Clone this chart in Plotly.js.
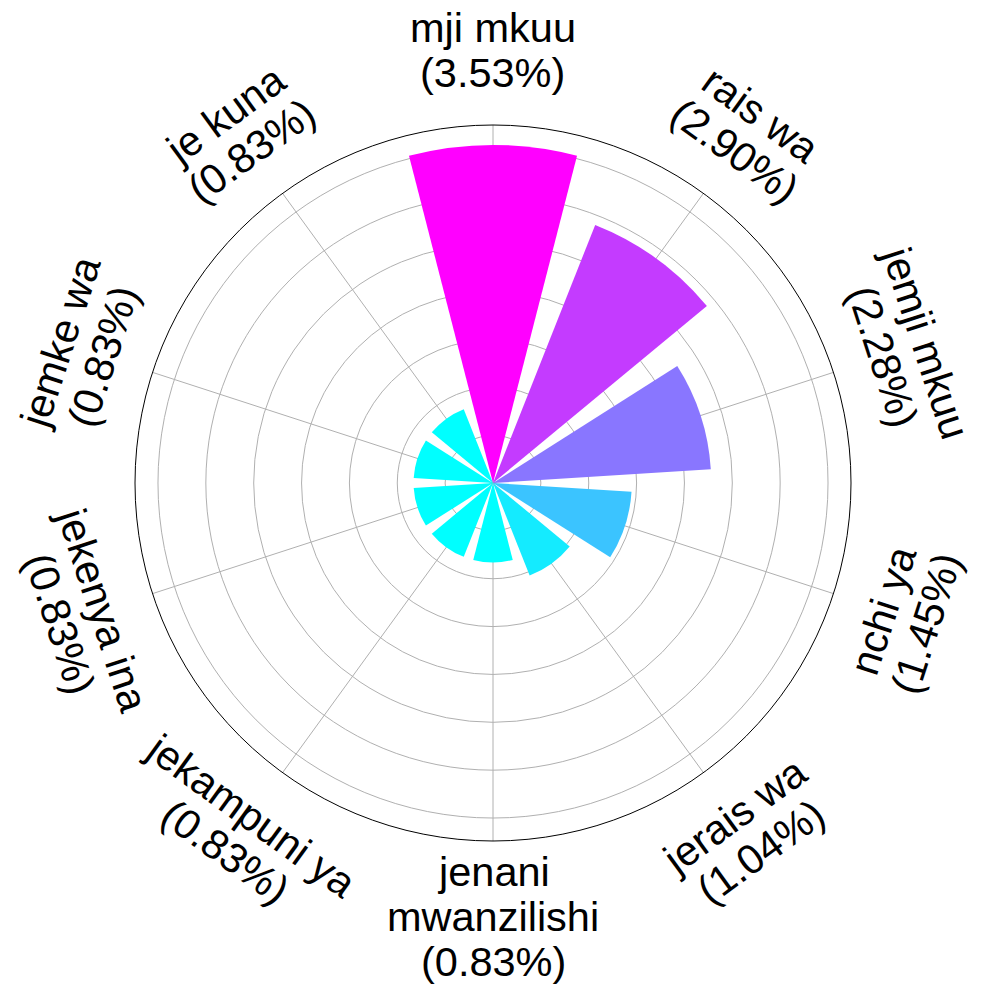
<!DOCTYPE html>
<html>
<head>
<meta charset="utf-8">
<script src="https://cdn.plot.ly/plotly-3.0.1.min.js"></script>
<style>html,body{margin:0;padding:0;background:#fff;}#chart{width:984px;height:989px;}</style>
</head>
<body>
<div id="chart"></div>
<script>
// Data
var categories = ["mji mkuu", "rais wa", "jemji mkuu", "nchi ya", "jerais wa",
                  "jenani mwanzilishi", "jekampuni ya", "jekenya ina", "jemke wa", "je kuna"];
var values = [3.53, 2.90, 2.28, 1.45, 1.04, 0.83, 0.83, 0.83, 0.83, 0.83];
var thetas = [0, 36, 72, 108, 144, 180, 216, 252, 288, 324];

// Layout geometry (pixels)
var W = 984, H = 989;
var CX = 493, CY = 483, R = 358;
var LABEL_R = 433, LINE_H = 45, FONT_SIZE = 41.5;

// cool colormap
var vmin = Math.min.apply(null, values), vmax = Math.max.apply(null, values);
var colors = values.map(function (v) {
  var t = (v - vmin) / (vmax - vmin);
  return 'rgb(' + Math.round(255 * t) + ',' + Math.round(255 * (1 - t)) + ',255)';
});

function wrap(text, width) {
  var words = text.split(' '), lines = [], cur = '';
  words.forEach(function (w) {
    if (cur === '') cur = w;
    else if ((cur + ' ' + w).length <= width) cur += ' ' + w;
    else { lines.push(cur); cur = w; }
  });
  if (cur) lines.push(cur);
  return lines;
}

var annotations = [];
categories.forEach(function (cat, i) {
  var th = thetas[i];
  var lines = wrap(cat + ' (' + values[i].toFixed(2) + '%)', 14);
  var rad = th * Math.PI / 180;
  var lx = LABEL_R * Math.sin(rad), ly = -LABEL_R * Math.cos(rad);
  var a = th;
  if (th > 90 && th < 270) a = th - 180;
  var ar = a * Math.PI / 180;
  var dnx = -Math.sin(ar), dny = Math.cos(ar);
  var n = lines.length;
  lines.forEach(function (ln, j) {
    var off = (j - (n - 1) / 2) * LINE_H;
    var px = lx + dnx * off, py = ly + dny * off;
    annotations.push({
      xref: 'paper', yref: 'paper', x: CX / W, y: 1 - CY / H,
      xanchor: 'center', yanchor: 'middle',
      xshift: px, yshift: -py,
      text: ln, showarrow: false, textangle: a,
      font: {family: 'Liberation Sans, Arial, sans-serif', size: FONT_SIZE, color: '#000'}
    });
  });
});

var trace = {
  type: 'barpolar',
  r: values,
  theta: thetas,
  width: thetas.map(function () { return 28.8; }),
  marker: {color: colors, line: {width: 0}},
  hoverinfo: 'skip'
};

var layout = {
  width: W, height: H,
  margin: {l: 0, r: 0, t: 0, b: 0},
  paper_bgcolor: '#fff',
  showlegend: false,
  polar: {
    domain: {x: [(CX - R) / W, (CX + R) / W], y: [1 - (CY + R) / H, 1 - (CY - R) / H]},
    bgcolor: '#fff',
    radialaxis: {
      range: [0, 3.74], tickmode: 'linear', tick0: 0, dtick: 0.5,
      showticklabels: false, ticks: '', showline: false,
      gridcolor: '#b0b0b0', gridwidth: 1
    },
    angularaxis: {
      rotation: 90, direction: 'clockwise',
      tickmode: 'linear', tick0: 0, dtick: 36,
      showticklabels: false, ticks: '',
      showline: true, linecolor: '#000', linewidth: 1,
      gridcolor: '#b0b0b0', gridwidth: 1
    }
  },
  annotations: annotations
};

Plotly.newPlot('chart', [trace], layout, {displayModeBar: false, staticPlot: true});
</script>
</body>
</html>
